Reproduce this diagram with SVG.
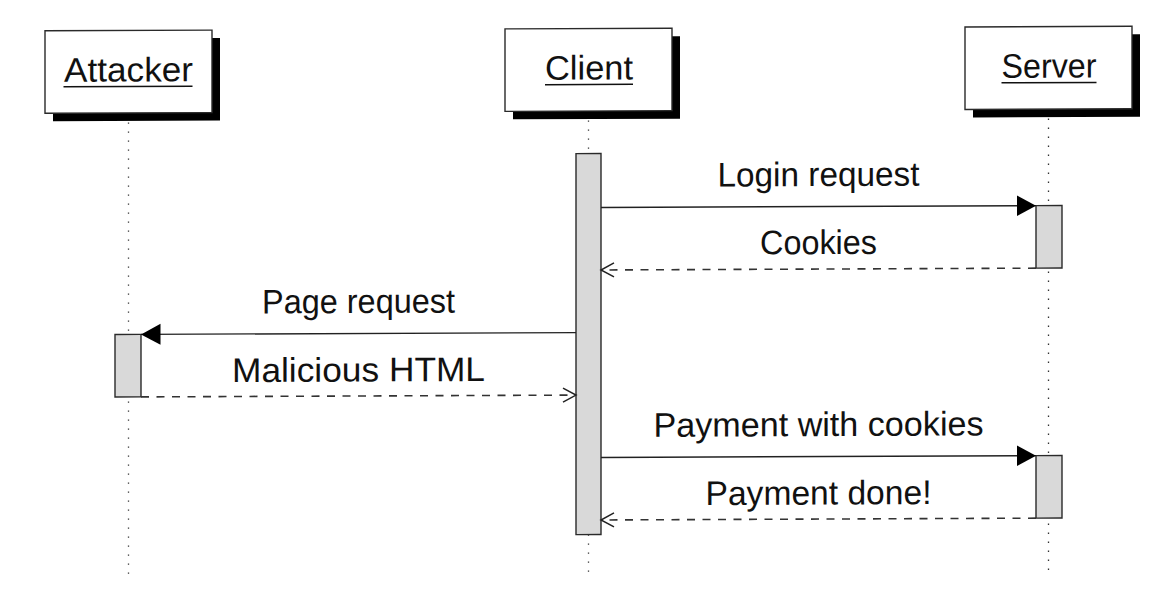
<svg xmlns="http://www.w3.org/2000/svg" width="1170" height="613" viewBox="0 0 1170 613">
  <style>
    .box { fill: #ffffff; stroke: #2a2a2a; stroke-width: 1.4; }
    .shadow { fill: #000000; stroke: none; }
    .life { stroke: #333; stroke-width: 1.3; stroke-dasharray: 1.3 7.7; fill: none; }
    .bar { fill: #d9d9d9; stroke: #2a2a2a; stroke-width: 1.4; }
    .lbl { font-family: "Liberation Sans", Arial, sans-serif; font-size: 34px; fill: #111; text-anchor: middle; }
    .ul { stroke: #111; stroke-width: 1.5; }
    .msg { stroke: #222; stroke-width: 1.4; fill: none; }
    .ret { stroke: #333; stroke-width: 1.6; fill: none; stroke-dasharray: 8 7.5; }
  </style>
  <defs>
    <marker id="tri" markerUnits="userSpaceOnUse" markerWidth="20" markerHeight="22" viewBox="0 0 20 22" refX="19.5" refY="11" orient="auto">
      <path d="M0,0.5 L19.5,11 L0,21.5 Z" fill="#000"/>
    </marker>
    <marker id="open" markerUnits="userSpaceOnUse" markerWidth="16" markerHeight="18" viewBox="0 0 16 18" refX="14" refY="9" orient="auto">
      <path d="M1,2 L14,9 L1,16" fill="none" stroke="#222" stroke-width="1.5"/>
    </marker>
  </defs>
  <g transform="matrix(1,-0.0042,0,1,0,0)">
    <g id="attacker">
      <line class="life" x1="128.5" y1="123" x2="128.5" y2="582"/>
      <rect class="shadow" x="53" y="39" width="167" height="82.5"/>
      <rect class="box" x="45" y="31" width="167" height="82.5"/>
      <text class="lbl" x="128.5" y="82" textLength="129" lengthAdjust="spacingAndGlyphs">Attacker</text>
      <line class="ul" x1="63.5" y1="87" x2="192.5" y2="87"/>
      <rect class="bar" x="115" y="335" width="26" height="62.5"/>
    </g>
    <g id="client">
      <line class="life" x1="588.5" y1="123" x2="588.5" y2="582"/>
      <rect class="shadow" x="513" y="39" width="167" height="82.5"/>
      <rect class="box" x="505" y="31" width="167" height="82.5"/>
      <text class="lbl" x="589" y="82" textLength="88" lengthAdjust="spacingAndGlyphs">Client</text>
      <line class="ul" x1="545" y1="87" x2="633" y2="87"/>
      <rect class="bar" x="576" y="156" width="25" height="381"/>
    </g>
    <g id="server">
      <line class="life" x1="1048.5" y1="123" x2="1048.5" y2="582"/>
      <rect class="shadow" x="973" y="39" width="167" height="82.5"/>
      <rect class="box" x="965" y="31" width="167" height="82.5"/>
      <text class="lbl" x="1049" y="82" textLength="95" lengthAdjust="spacingAndGlyphs">Server</text>
      <line class="ul" x1="1001.5" y1="87" x2="1096.5" y2="87"/>
      <rect class="bar" x="1036" y="210" width="26" height="62.5"/>
      <rect class="bar" x="1036" y="460" width="26" height="62.5"/>
    </g>
    <g id="connectors">
      <line class="msg" x1="601" y1="210" x2="1036" y2="210" marker-end="url(#tri)"/>
      <text class="lbl" x="818.5" y="189.5" textLength="202" lengthAdjust="spacingAndGlyphs">Login request</text>
      <line class="ret" x1="1036" y1="272.5" x2="601" y2="272.5" marker-end="url(#open)"/>
      <text class="lbl" x="818.5" y="257.5" textLength="117" lengthAdjust="spacingAndGlyphs">Cookies</text>
      <line class="msg" x1="576" y1="335" x2="141" y2="335" marker-end="url(#tri)"/>
      <text class="lbl" x="358.5" y="314.5" textLength="193" lengthAdjust="spacingAndGlyphs">Page request</text>
      <line class="ret" x1="141" y1="397.5" x2="576" y2="397.5" marker-end="url(#open)"/>
      <text class="lbl" x="358.5" y="383" textLength="253" lengthAdjust="spacingAndGlyphs">Malicious HTML</text>
      <line class="msg" x1="601" y1="460" x2="1036" y2="460" marker-end="url(#tri)"/>
      <text class="lbl" x="818.5" y="439.5" textLength="330" lengthAdjust="spacingAndGlyphs">Payment with cookies</text>
      <line class="ret" x1="1036" y1="522.5" x2="601" y2="522.5" marker-end="url(#open)"/>
      <text class="lbl" x="818.5" y="508" textLength="226" lengthAdjust="spacingAndGlyphs">Payment done!</text>
    </g>
  </g>
</svg>
